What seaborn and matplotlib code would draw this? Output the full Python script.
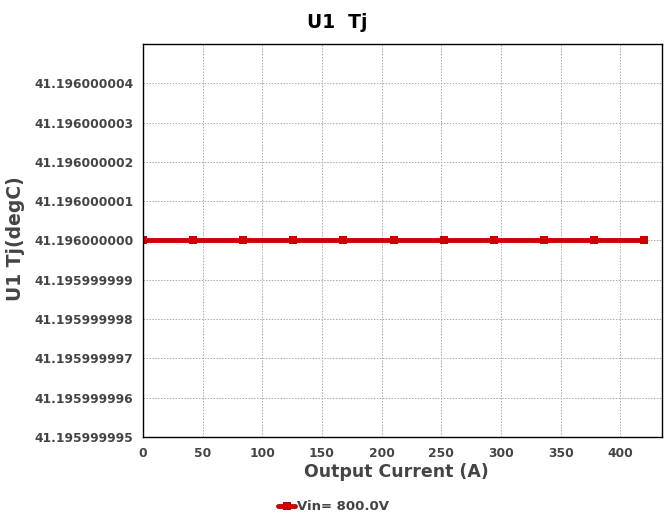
import matplotlib
matplotlib.use("Agg")
import matplotlib.pyplot as plt
import matplotlib.ticker as mticker
import seaborn as sns
import pandas as pd

current = [0, 42, 84, 126, 168, 210, 252, 294, 336, 378, 420]
tj = [41.196] * 11
series_name = "Vin= 800.0V"
y_ticks = [41.195999995, 41.195999996, 41.195999997, 41.195999998, 41.195999999,
           41.196000000, 41.196000001, 41.196000002, 41.196000003, 41.196000004]
x_ticks = [0, 50, 100, 150, 200, 250, 300, 350, 400]

df = pd.DataFrame({"current": current, "tj": tj, "series": series_name})

sns.set_style("white")
plt.rcParams['font.family'] = ['DejaVu Sans']
txt = "#444444"

fig = plt.figure(figsize=(6.64, 5.15), dpi=100)
ax = fig.add_axes([0.2154, 0.1515, 0.7816, 0.7631])

sns.lineplot(data=df, x="current", y="tj", hue="series", palette=["#cc0000"],
             marker="s", markersize=6, markeredgewidth=0, linewidth=3.5, ax=ax)

ax.set_xlim(0, 435)
ax.set_ylim(41.195999995, 41.196000005)
ax.yaxis.set_major_locator(mticker.FixedLocator(y_ticks))
ax.yaxis.set_major_formatter(mticker.FormatStrFormatter('%.9f'))
ax.xaxis.set_major_locator(mticker.FixedLocator(x_ticks))
ax.grid(True, color="#aaaaaa", linestyle=(0, (1.5, 1.5)), linewidth=0.7)
for lab in ax.get_yticklabels() + ax.get_xticklabels():
    lab.set_fontweight("bold")
    lab.set_color(txt)
    lab.set_fontsize(8.8)
ax.tick_params(length=0, pad=7)
for s in ax.spines.values():
    s.set_color("black")
    s.set_linewidth(1)

fig.text(0.508, 0.957, "U1  Tj", fontsize=13.5, fontweight="bold", color="black",
         ha="center", va="center")
ax.set_xlabel("Output Current (A)", fontsize=12.5, fontweight="bold", color=txt)
ax.xaxis.label.set_va("center")
ax.xaxis.set_label_coords(0.489, -0.089)
ax.set_ylabel("U1 Tj(degC)", fontsize=13.5, fontweight="bold", color=txt)
ax.yaxis.label.set_va("center")
ax.yaxis.set_label_coords(-0.245, 0.505)

leg = ax.legend(loc="center", bbox_to_anchor=(0.367, -0.178), frameon=False,
                fontsize=9.5, handlelength=1.3, handletextpad=0.1, borderaxespad=0)
for t in leg.get_texts():
    t.set_fontweight("bold")
    t.set_color(txt)

fig.savefig("out.png", dpi=100)
